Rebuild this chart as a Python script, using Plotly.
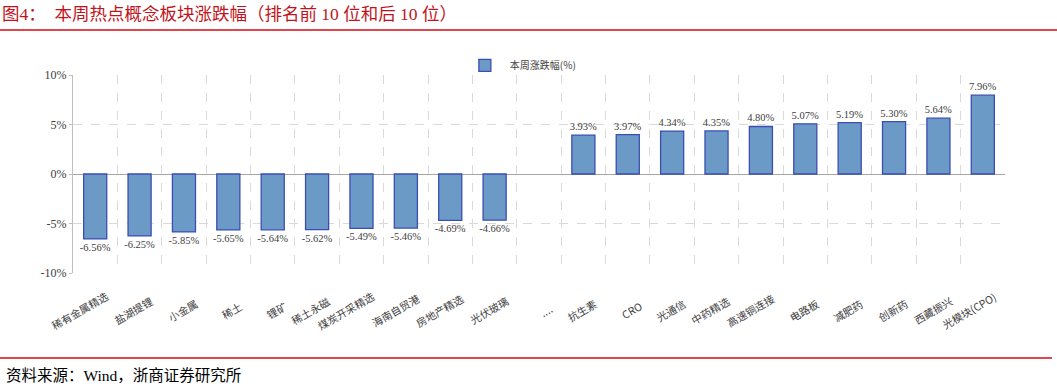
import plotly.graph_objects as go

categories = ["稀有金属精选", "盐湖提锂", "小金属", "稀土", "锂矿", "稀土永磁", "煤炭开采精选",
              "海南自贸港", "房地产精选", "光伏玻璃", "....", "抗生素", "CRO", "光通信", "中药精选",
              "高速铜连接", "电路板", "减肥药", "创新药", "西藏振兴", "光模块(CPO)"]
values = [-6.56, -6.25, -5.85, -5.65, -5.64, -5.62, -5.49, -5.46, -4.69, -4.66, None,
          3.93, 3.97, 4.34, 4.35, 4.80, 5.07, 5.19, 5.30, 5.64, 7.96]
series_name = "本周涨跌幅(%)"
y_ticks = [-10, -5, 0, 5, 10]

labels = ["" if v is None else f"{v:.2f}%" for v in values]

FONT = "Liberation Serif, Noto Sans CJK SC, serif"

fig = go.Figure()
fig.add_trace(go.Bar(
    x=categories, y=values, name=series_name,
    marker=dict(color="#6B9AC6", line=dict(color="#3B4DB3", width=1.3)),
    width=0.52,
    text=labels, textposition="outside", cliponaxis=False, constraintext="none",
    textfont=dict(family=FONT, size=10.5, color="#404040"),
))

fig.update_layout(
    width=1057, height=388,
    margin=dict(l=73, r=52, t=75, b=115),
    paper_bgcolor="white", plot_bgcolor="white",
    font=dict(family=FONT, color="#404040"),
    showlegend=True,
    legend=dict(orientation="h", x=0.48, xanchor="center", y=0.975, yanchor="bottom",
                font=dict(family="Noto Sans CJK SC", size=10, color="#404040"),
                itemwidth=40, bgcolor="rgba(0,0,0,0)"),
    bargap=0.48,
)
fig.update_xaxes(
    type="category", tickson="boundaries",
    showgrid=True, gridcolor="#D9D9D9", griddash="dash", gridwidth=1,
    showticklabels=False, ticks="", showline=False, zeroline=False,
    range=[-0.5, len(categories) - 0.5],
)
fig.update_yaxes(
    range=[-10, 10], tickvals=y_ticks, ticktext=[f"{t}%" for t in y_ticks],
    showgrid=True, gridcolor="#D9D9D9", griddash="dash", gridwidth=1,
    zeroline=True, zerolinecolor="#A6A6A6", zerolinewidth=1.3,
    showline=True, linecolor="#BFBFBF", linewidth=1,
    ticks="outside", ticklen=3, tickcolor="#BFBFBF",
    tickfont=dict(family="Liberation Serif", size=12, color="#404040"),
)

# Rotated category labels (placed on the category axis scale)
for cat in categories:
    fig.add_annotation(text=cat, x=cat, xref="x", y=0, yref="paper",
                       xanchor="right", yanchor="middle", textangle=-30,
                       xshift=19, yshift=-37, showarrow=False,
                       font=dict(family="Noto Sans CJK SC", size=10.5, color="#404040"))

# Title, source and header/footer rules
fig.add_annotation(text="图4：  本周热点概念板块涨跌幅（排名前 10 位和后 10 位）",
                   xref="paper", yref="paper", x=-73/932, y=1 + 61/198, xanchor="left", yanchor="middle",
                   showarrow=False, font=dict(family="Liberation Serif, Noto Sans CJK SC", size=17.5, color="#C0141C"))
fig.add_annotation(text="资料来源：Wind，浙商证券研究所",
                   xref="paper", yref="paper", x=-69/932, y=-102/198, xanchor="left", yanchor="middle",
                   showarrow=False, font=dict(family="Liberation Serif, Noto Sans CJK SC", size=15.5, color="#000000"))
fig.add_shape(type="line", xref="paper", yref="paper", x0=-73/932, x1=(1057-73)/932,
              y0=1 + 45/198, y1=1 + 45/198, line=dict(color="#E0474C", width=2))
fig.add_shape(type="line", xref="paper", yref="paper", x0=-73/932, x1=(1052-73)/932,
              y0=-85/198, y1=-85/198, line=dict(color="#E0474C", width=2))

fig.write_html("out.html")
